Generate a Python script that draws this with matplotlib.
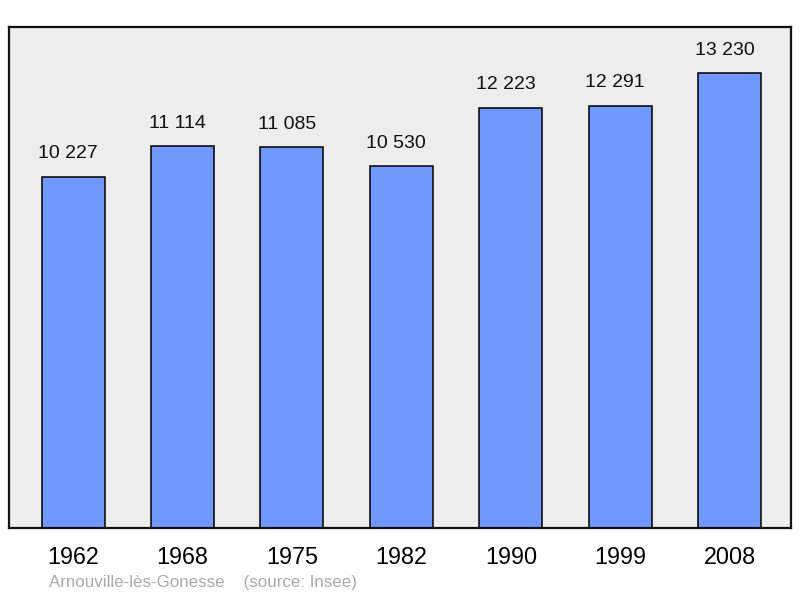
import matplotlib.pyplot as plt

years = ["1962", "1968", "1975", "1982", "1990", "1999", "2008"]
population = [10227, 11114, 11085, 10530, 12223, 12291, 13230]
labels = ["10 227", "11 114", "11 085", "10 530", "12 223", "12 291", "13 230"]

plt.rcParams["font.family"] = ["Liberation Sans", "DejaVu Sans"]

fig = plt.figure(figsize=(8, 5.98), dpi=100)
ax = fig.add_axes([9 / 800, 70 / 598, 782 / 800, 501 / 598])
ax.set_facecolor("#ededed")

x = list(range(len(years)))
bars = ax.bar(x, population, width=0.576, color="#7098ff",
              edgecolor="black", linewidth=1.1)

# value labels above bars (slightly left of centre, as in the original)
for xi, val, lab in zip(x, population, labels):
    ax.annotate(lab, (xi, val), xytext=(-5, 23), textcoords="offset pixels",
                ha="center", va="center", fontsize=14, color="#111111")

ax.set_xlim(-0.585, 6.56)
ax.set_ylim(0, 14580)
ax.set_xticks(x)
ax.set_xticklabels(years, fontsize=16.8)
ax.tick_params(axis="x", length=0, pad=13)
ax.set_yticks([])

for s in ax.spines.values():
    s.set_linewidth(1.6)
    s.set_color("#111111")

fig.text(49 / 800, 1 - 583 / 598, "Arnouville-lès-Gonesse    (source: Insee)",
         fontsize=12.2, color="#aaaaaa", ha="left", va="center")

fig.savefig("out.png", dpi=100)
